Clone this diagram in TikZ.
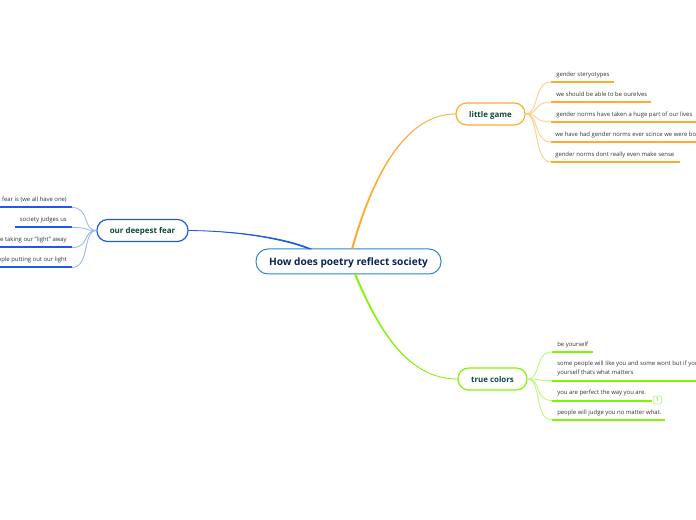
\documentclass[tikz,border=0pt]{standalone}
\usepackage{fontspec}
\usetikzlibrary{calc}
\setmainfont{Open Sans}
\definecolor{bluec}{HTML}{1F5AE6}
\definecolor{bluel}{HTML}{9DB9F4}
\definecolor{orangec}{HTML}{FFAB2E}
\definecolor{orangel}{HTML}{FFCF8A}
\definecolor{greenc}{HTML}{84F500}
\definecolor{greenl}{HTML}{BDF880}
\definecolor{rootb}{HTML}{3484C8}
\definecolor{roott}{HTML}{0B2350}
\definecolor{brancht}{HTML}{0D4A3C}
\definecolor{leaft}{HTML}{333333}
\tikzset{
  x=0.75pt,y=-0.75pt,
  rootnode/.style={draw=rootb,line width=0.75pt,rounded corners=9pt,fill=white,text=roott,font=\fontsize{7.6}{9}\selectfont\bfseries,minimum width=138.75pt,minimum height=18.75pt,inner sep=0pt,text height=6pt,text depth=0.6pt},
  branch/.style={draw=#1,line width=0.9pt,rounded corners=8pt,fill=white,text=brancht,font=\fontsize{5.95}{8}\selectfont\bfseries,minimum height=16.5pt,inner sep=0pt,text height=5pt,text depth=0.4pt},
  leaf/.style={text=leaft,font=\fontsize{4.45}{6.6}\selectfont,inner sep=0pt,text depth=0pt},
  rleaf/.style={leaf,anchor=south west,align=left},
  lleaf/.style={leaf,anchor=south east,align=right},
  under/.style={draw=#1,line width=1.5pt},
  twig/.style={draw=#1,line width=0.7pt},
  limb/.style={draw=#1,fill=#1,line width=0.6pt,line join=round},
}
\begin{document}
\begin{tikzpicture}
\useasboundingbox (0,0) rectangle (696,520);
\clip (0,0) rectangle (696,520);
\fill[white] (0,0) rectangle (696,520);
% limbs
\coordinate (ra) at (310,249);\coordinate (rb) at (352,249);\coordinate (rc) at (355,274);
% nodes
\node[rootnode] (root) at (348.5,261.5) {How does poetry reflect society};
\node[branch=bluec,minimum width=68.25pt] (fear) at (142.5,230.5) {our deepest fear};
\node[branch=orangec,minimum width=51.75pt] (game) at (490.5,114) {little game};
\node[branch=greenc,minimum width=51.75pt] (colors) at (492.5,379) {true colors};
\draw[limb=bluec] (fear.east) .. controls (240,231) and (285,239.5) .. ([xshift=-0.6pt]ra) -- ([xshift=1pt]ra) .. controls (285,238) and (240,231) .. (fear.east) -- cycle;
\draw[limb=orangec] (game.west) .. controls (410,114) and (375,165) .. ([xshift=-0.4pt]rb) -- ([xshift=0.5pt]rb) .. controls (376,165) and (410,114) .. (game.west) -- cycle;
\draw[limb=greenc] (colors.west) .. controls (410,379) and (380,335) .. ([xshift=-0.4pt]rc) -- ([xshift=0.5pt]rc) .. controls (381,335) and (410,379) .. (colors.west) -- cycle;
% left leaves
\coordinate (la) at (72,207.5);\coordinate (lb) at (72,227.5);\coordinate (lc) at (72,247.5);\coordinate (ld) at (72,267.5);
\node[lleaf] (f1) at (67,202) {our deepest fear is (we all have one)};
\node[lleaf] (f2) at (67,222) {society judges us};
\node[lleaf] (f3) at (67,242) {people taking our "light" away};
\node[lleaf] (f4) at (67,262) {people putting out our light};
\coordinate (lae) at (0,207.5);\coordinate (lbe) at (15,227.5);\coordinate (lce) at (0,247.5);\coordinate (lde) at (0,267.5);
\foreach \a/\b in {la/lae,lb/lbe,lc/lce,ld/lde}{\draw[under=bluec] (\a)--(\b);
  \draw[twig=bluel] (fear.west) .. controls +(-14,0) and ($(\a)+(18,0)$) .. (\a);}
% right top leaves
\node[rleaf] (g1) at (556,76.5) {gender steryotypes};
\node[rleaf] (g2) at (556,96.5) {we should be able to be ourelves};
\node[rleaf] (g3) at (556,116.5) {gender norms have taken a huge part of our lives};
\node[rleaf] (g4) at (555,136.5) {we have had gender norms ever scince we were born};
\node[rleaf] (g5) at (555,156.5) {gender norms dont really even make sense};
\coordinate (ga) at (551,82);\coordinate (gb) at (551,102);\coordinate (gc) at (551,122);\coordinate (gd) at (551,142);\coordinate (ge) at (551,162);
\coordinate (gae) at (614,82);\coordinate (gbe) at (651,102);\coordinate (gce) at (696,122);\coordinate (gde) at (696,142);\coordinate (gee) at (680,162);
\foreach \a/\b in {ga/gae,gb/gbe,gc/gce,gd/gde,ge/gee}{\draw[under=orangec] (\a)--(\b);
  \draw[twig=orangel] (game.east) .. controls +(14,0) and ($(\a)+(-18,0)$) .. (\a);}
% right bottom leaves
\node[rleaf] (c1) at (557,346.5) {be yourself};
\node[rleaf] (c2) at (557,375) {some people will like you and some wont but if you\\yourself thats what matters};
\node[rleaf] (c3) at (557,395) {you are perfect the way you are.};
\node[rleaf] (c4) at (557,415) {people will judge you no matter what.};
\coordinate (ca) at (552,352);\coordinate (cb) at (552,380.5);\coordinate (cc) at (552,400.5);\coordinate (cd) at (552,420);
\coordinate (cae) at (593,352);\coordinate (cbe) at (696,380.5);\coordinate (cce) at (652,400.5);\coordinate (cde) at (665,420);
\foreach \a/\b in {ca/cae,cb/cbe,cc/cce,cd/cde}{\draw[under=greenc] (\a)--(\b);
  \draw[twig=greenl] (colors.east) .. controls +(14,0) and ($(\a)+(-18,0)$) .. (\a);}
\node[draw=greenl,line width=0.6pt,rounded corners=1.5pt,fill=white,text=greenc!70!black,font=\fontsize{4}{4}\selectfont,minimum width=6.5pt,minimum height=6pt,inner sep=0pt] (badge) at (657.5,400) {1};
\end{tikzpicture}
\end{document}
